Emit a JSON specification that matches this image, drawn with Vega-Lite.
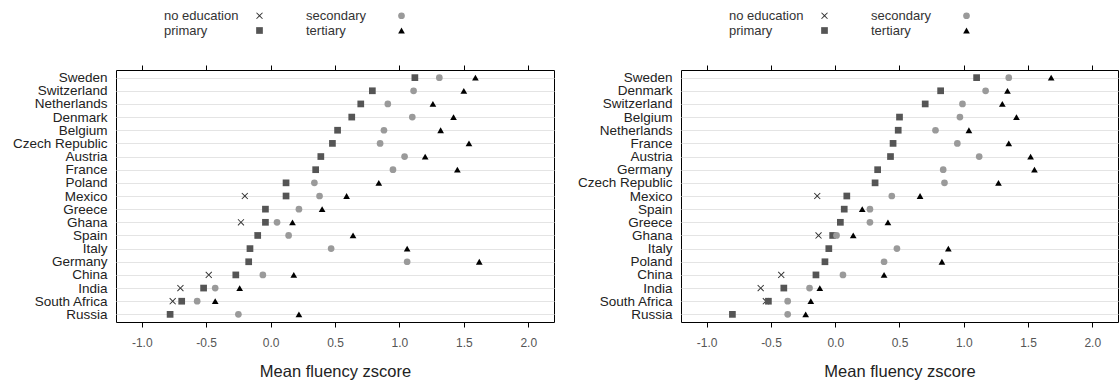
{
  "$schema": "https://vega.github.io/schema/vega-lite/v6.json",
  "padding": {"left": 6, "top": 8, "right": 1, "bottom": 0},
  "background": "white",
  "config": {
    "font": "Liberation Sans",
    "view": {"stroke": "#000000", "strokeWidth": 1},
    "concat": {"spacing": 16},
    "legend": {"labelFont": "Liberation Sans"}
  },
  "datasets": {
    "p1": [
      {"country": "Sweden", "level": "primary", "value": 1.12},
      {"country": "Sweden", "level": "secondary", "value": 1.31},
      {"country": "Sweden", "level": "tertiary", "value": 1.59},
      {"country": "Switzerland", "level": "primary", "value": 0.79},
      {"country": "Switzerland", "level": "secondary", "value": 1.11},
      {"country": "Switzerland", "level": "tertiary", "value": 1.50},
      {"country": "Netherlands", "level": "primary", "value": 0.70},
      {"country": "Netherlands", "level": "secondary", "value": 0.91},
      {"country": "Netherlands", "level": "tertiary", "value": 1.26},
      {"country": "Denmark", "level": "primary", "value": 0.63},
      {"country": "Denmark", "level": "secondary", "value": 1.10},
      {"country": "Denmark", "level": "tertiary", "value": 1.42},
      {"country": "Belgium", "level": "primary", "value": 0.52},
      {"country": "Belgium", "level": "secondary", "value": 0.88},
      {"country": "Belgium", "level": "tertiary", "value": 1.32},
      {"country": "Czech Republic", "level": "primary", "value": 0.48},
      {"country": "Czech Republic", "level": "secondary", "value": 0.85},
      {"country": "Czech Republic", "level": "tertiary", "value": 1.54},
      {"country": "Austria", "level": "primary", "value": 0.39},
      {"country": "Austria", "level": "secondary", "value": 1.04},
      {"country": "Austria", "level": "tertiary", "value": 1.20},
      {"country": "France", "level": "primary", "value": 0.35},
      {"country": "France", "level": "secondary", "value": 0.95},
      {"country": "France", "level": "tertiary", "value": 1.45},
      {"country": "Poland", "level": "primary", "value": 0.12},
      {"country": "Poland", "level": "secondary", "value": 0.34},
      {"country": "Poland", "level": "tertiary", "value": 0.84},
      {"country": "Mexico", "level": "no education", "value": -0.20},
      {"country": "Mexico", "level": "primary", "value": 0.12},
      {"country": "Mexico", "level": "secondary", "value": 0.38},
      {"country": "Mexico", "level": "tertiary", "value": 0.59},
      {"country": "Greece", "level": "primary", "value": -0.04},
      {"country": "Greece", "level": "secondary", "value": 0.22},
      {"country": "Greece", "level": "tertiary", "value": 0.40},
      {"country": "Ghana", "level": "no education", "value": -0.23},
      {"country": "Ghana", "level": "primary", "value": -0.04},
      {"country": "Ghana", "level": "secondary", "value": 0.05},
      {"country": "Ghana", "level": "tertiary", "value": 0.17},
      {"country": "Spain", "level": "primary", "value": -0.10},
      {"country": "Spain", "level": "secondary", "value": 0.14},
      {"country": "Spain", "level": "tertiary", "value": 0.64},
      {"country": "Italy", "level": "primary", "value": -0.16},
      {"country": "Italy", "level": "secondary", "value": 0.47},
      {"country": "Italy", "level": "tertiary", "value": 1.06},
      {"country": "Germany", "level": "primary", "value": -0.17},
      {"country": "Germany", "level": "secondary", "value": 1.06},
      {"country": "Germany", "level": "tertiary", "value": 1.62},
      {"country": "China", "level": "no education", "value": -0.48},
      {"country": "China", "level": "primary", "value": -0.27},
      {"country": "China", "level": "secondary", "value": -0.06},
      {"country": "China", "level": "tertiary", "value": 0.18},
      {"country": "India", "level": "no education", "value": -0.70},
      {"country": "India", "level": "primary", "value": -0.52},
      {"country": "India", "level": "secondary", "value": -0.43},
      {"country": "India", "level": "tertiary", "value": -0.24},
      {"country": "South Africa", "level": "no education", "value": -0.76},
      {"country": "South Africa", "level": "primary", "value": -0.69},
      {"country": "South Africa", "level": "secondary", "value": -0.57},
      {"country": "South Africa", "level": "tertiary", "value": -0.43},
      {"country": "Russia", "level": "primary", "value": -0.78},
      {"country": "Russia", "level": "secondary", "value": -0.25},
      {"country": "Russia", "level": "tertiary", "value": 0.22}
    ],
    "p2": [
      {"country": "Sweden", "level": "primary", "value": 1.10},
      {"country": "Sweden", "level": "secondary", "value": 1.35},
      {"country": "Sweden", "level": "tertiary", "value": 1.68},
      {"country": "Denmark", "level": "primary", "value": 0.82},
      {"country": "Denmark", "level": "secondary", "value": 1.17},
      {"country": "Denmark", "level": "tertiary", "value": 1.34},
      {"country": "Switzerland", "level": "primary", "value": 0.70},
      {"country": "Switzerland", "level": "secondary", "value": 0.99},
      {"country": "Switzerland", "level": "tertiary", "value": 1.30},
      {"country": "Belgium", "level": "primary", "value": 0.50},
      {"country": "Belgium", "level": "secondary", "value": 0.97},
      {"country": "Belgium", "level": "tertiary", "value": 1.41},
      {"country": "Netherlands", "level": "primary", "value": 0.49},
      {"country": "Netherlands", "level": "secondary", "value": 0.78},
      {"country": "Netherlands", "level": "tertiary", "value": 1.04},
      {"country": "France", "level": "primary", "value": 0.45},
      {"country": "France", "level": "secondary", "value": 0.95},
      {"country": "France", "level": "tertiary", "value": 1.35},
      {"country": "Austria", "level": "primary", "value": 0.43},
      {"country": "Austria", "level": "secondary", "value": 1.12},
      {"country": "Austria", "level": "tertiary", "value": 1.52},
      {"country": "Germany", "level": "primary", "value": 0.33},
      {"country": "Germany", "level": "secondary", "value": 0.84},
      {"country": "Germany", "level": "tertiary", "value": 1.55},
      {"country": "Czech Republic", "level": "primary", "value": 0.31},
      {"country": "Czech Republic", "level": "secondary", "value": 0.85},
      {"country": "Czech Republic", "level": "tertiary", "value": 1.27},
      {"country": "Mexico", "level": "no education", "value": -0.14},
      {"country": "Mexico", "level": "primary", "value": 0.09},
      {"country": "Mexico", "level": "secondary", "value": 0.44},
      {"country": "Mexico", "level": "tertiary", "value": 0.66},
      {"country": "Spain", "level": "primary", "value": 0.07},
      {"country": "Spain", "level": "secondary", "value": 0.27},
      {"country": "Spain", "level": "tertiary", "value": 0.21},
      {"country": "Greece", "level": "primary", "value": 0.04},
      {"country": "Greece", "level": "secondary", "value": 0.27},
      {"country": "Greece", "level": "tertiary", "value": 0.41},
      {"country": "Ghana", "level": "no education", "value": -0.13},
      {"country": "Ghana", "level": "primary", "value": -0.02},
      {"country": "Ghana", "level": "secondary", "value": 0.01},
      {"country": "Ghana", "level": "tertiary", "value": 0.14},
      {"country": "Italy", "level": "primary", "value": -0.05},
      {"country": "Italy", "level": "secondary", "value": 0.48},
      {"country": "Italy", "level": "tertiary", "value": 0.88},
      {"country": "Poland", "level": "primary", "value": -0.08},
      {"country": "Poland", "level": "secondary", "value": 0.38},
      {"country": "Poland", "level": "tertiary", "value": 0.83},
      {"country": "China", "level": "no education", "value": -0.42},
      {"country": "China", "level": "primary", "value": -0.15},
      {"country": "China", "level": "secondary", "value": 0.06},
      {"country": "China", "level": "tertiary", "value": 0.38},
      {"country": "India", "level": "no education", "value": -0.58},
      {"country": "India", "level": "primary", "value": -0.40},
      {"country": "India", "level": "secondary", "value": -0.20},
      {"country": "India", "level": "tertiary", "value": -0.12},
      {"country": "South Africa", "level": "no education", "value": -0.54},
      {"country": "South Africa", "level": "primary", "value": -0.52},
      {"country": "South Africa", "level": "secondary", "value": -0.37},
      {"country": "South Africa", "level": "tertiary", "value": -0.19},
      {"country": "Russia", "level": "primary", "value": -0.80},
      {"country": "Russia", "level": "secondary", "value": -0.37},
      {"country": "Russia", "level": "tertiary", "value": -0.23}
    ]
  },
  "hconcat": [
    {
      "data": {"name": "p1"},
      "width": 438,
      "height": 252,
      "layer": [
        {
          "mark": {"type": "point", "filled": true, "size": 45, "opacity": 1},
          "encoding": {
            "x": {"field": "value", "type": "quantitative",
              "scale": {"domain": [-1.2, 2.2], "nice": false, "zero": false},
              "axis": {"orient": "bottom", "values": [-1, -0.5, 0, 0.5, 1, 1.5, 2], "labelExpr": "replace(format(datum.value, '.1f'), '\u2212', '-')", "domain": false, "grid": false, "ticks": true, "tickSize": 5, "tickColor": "#000000", "labelFontSize": 12, "labelColor": "#555555", "labelPadding": 10, "title": "Mean fluency zscore", "titleFontSize": 16.5, "titleFontWeight": "normal", "titleColor": "#222222", "titlePadding": 15}},
            "y": {"field": "country", "type": "nominal",
              "sort": ["Sweden", "Switzerland", "Netherlands", "Denmark", "Belgium", "Czech Republic", "Austria", "France", "Poland", "Mexico", "Greece", "Ghana", "Spain", "Italy", "Germany", "China", "India", "South Africa", "Russia"],
              "scale": {"type": "point", "padding": 0.58},
              "axis": {"title": null, "domain": false, "ticks": false, "grid": true, "gridColor": "#e4e4e4", "labelFontSize": 13.5, "labelColor": "#222222", "labelPadding": 9, "minExtent": 109, "maxExtent": 109}},
            "shape": {"field": "level", "type": "nominal",
              "scale": {"domain": ["no education", "primary", "secondary", "tertiary"], "range": ["M-1,-0.8L-0.8,-1L0,-0.2L0.8,-1L1,-0.8L0.2,0L1,0.8L0.8,1L0,0.2L-0.8,1L-1,0.8L-0.2,0Z", "square", "circle", "triangle-up"]},
              "legend": {"title": null, "orient": "none", "legendX": 137, "legendY": -61, "columns": 2, "values": ["no education", "primary", "secondary", "tertiary"], "labelFontSize": 13, "labelColor": "#333333", "labelAlign": "left", "labelOffset": -102, "symbolSize": 45, "columnPadding": 43, "rowPadding": 1}},
            "color": {"field": "level", "type": "nominal",
              "scale": {"domain": ["no education", "primary", "secondary", "tertiary"], "range": ["#333333", "#555555", "#9a9a9a", "#000000"]},
              "legend": {"title": null, "orient": "none", "legendX": 137, "legendY": -61, "columns": 2, "values": ["no education", "primary", "secondary", "tertiary"], "labelFontSize": 13, "labelColor": "#333333", "labelAlign": "left", "labelOffset": -102, "symbolSize": 45, "columnPadding": 43, "rowPadding": 1}}
          }
        },
        {
          "mark": {"type": "point", "opacity": 0},
          "encoding": {
            "x": {"field": "value", "type": "quantitative",
              "axis": {"orient": "top", "values": [-1, -0.5, 0, 0.5, 1, 1.5, 2], "labels": false, "domain": false, "grid": false, "ticks": true, "tickSize": 5, "tickColor": "#000000", "title": null}}
          }
        }
      ],
      "resolve": {"axis": {"x": "independent"}}
    },
    {
      "data": {"name": "p2"},
      "width": 437,
      "height": 252,
      "layer": [
        {
          "mark": {"type": "point", "filled": true, "size": 45, "opacity": 1},
          "encoding": {
            "x": {"field": "value", "type": "quantitative",
              "scale": {"domain": [-1.2, 2.2], "nice": false, "zero": false},
              "axis": {"orient": "bottom", "values": [-1, -0.5, 0, 0.5, 1, 1.5, 2], "labelExpr": "replace(format(datum.value, '.1f'), '\u2212', '-')", "domain": false, "grid": false, "ticks": true, "tickSize": 5, "tickColor": "#000000", "labelFontSize": 12, "labelColor": "#555555", "labelPadding": 10, "title": "Mean fluency zscore", "titleFontSize": 16.5, "titleFontWeight": "normal", "titleColor": "#222222", "titlePadding": 15}},
            "y": {"field": "country", "type": "nominal",
              "sort": ["Sweden", "Denmark", "Switzerland", "Belgium", "Netherlands", "France", "Austria", "Germany", "Czech Republic", "Mexico", "Spain", "Greece", "Ghana", "Italy", "Poland", "China", "India", "South Africa", "Russia"],
              "scale": {"type": "point", "padding": 0.58},
              "axis": {"title": null, "domain": false, "ticks": false, "grid": true, "gridColor": "#e4e4e4", "labelFontSize": 13.5, "labelColor": "#222222", "labelPadding": 9, "minExtent": 109, "maxExtent": 109}},
            "shape": {"field": "level", "type": "nominal",
              "scale": {"domain": ["no education", "primary", "secondary", "tertiary"], "range": ["M-1,-0.8L-0.8,-1L0,-0.2L0.8,-1L1,-0.8L0.2,0L1,0.8L0.8,1L0,0.2L-0.8,1L-1,0.8L-0.2,0Z", "square", "circle", "triangle-up"]},
              "legend": {"title": null, "orient": "none", "legendX": 137, "legendY": -61, "columns": 2, "values": ["no education", "primary", "secondary", "tertiary"], "labelFontSize": 13, "labelColor": "#333333", "labelAlign": "left", "labelOffset": -102, "symbolSize": 45, "columnPadding": 43, "rowPadding": 1}},
            "color": {"field": "level", "type": "nominal",
              "scale": {"domain": ["no education", "primary", "secondary", "tertiary"], "range": ["#333333", "#555555", "#9a9a9a", "#000000"]},
              "legend": {"title": null, "orient": "none", "legendX": 137, "legendY": -61, "columns": 2, "values": ["no education", "primary", "secondary", "tertiary"], "labelFontSize": 13, "labelColor": "#333333", "labelAlign": "left", "labelOffset": -102, "symbolSize": 45, "columnPadding": 43, "rowPadding": 1}}
          }
        },
        {
          "mark": {"type": "point", "opacity": 0},
          "encoding": {
            "x": {"field": "value", "type": "quantitative",
              "axis": {"orient": "top", "values": [-1, -0.5, 0, 0.5, 1, 1.5, 2], "labels": false, "domain": false, "grid": false, "ticks": true, "tickSize": 5, "tickColor": "#000000", "title": null}}
          }
        }
      ],
      "resolve": {"axis": {"x": "independent"}}
    }
  ],
  "resolve": {"scale": {"y": "independent", "x": "independent", "shape": "independent", "color": "independent"}, "legend": {"shape": "independent", "color": "independent"}}
}
